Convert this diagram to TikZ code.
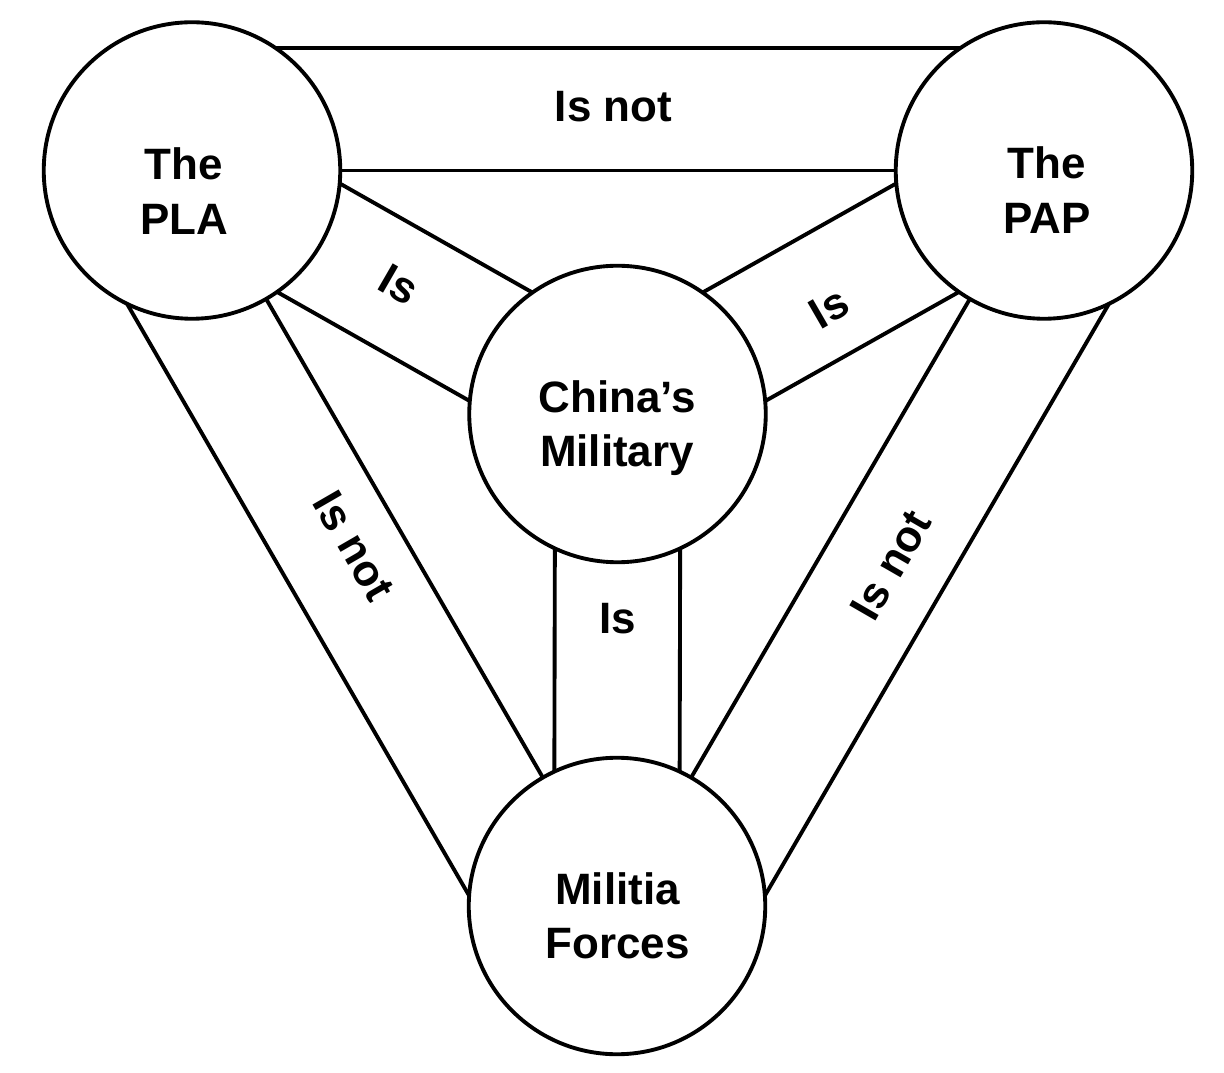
\documentclass[tikz,border=0pt]{standalone}
\usepackage{fontspec}
\setmainfont{Liberation Sans}
\begin{document}
\begin{tikzpicture}[
    ring/.style={circle,draw,line width=2.2pt,minimum size=5.93cm,inner sep=0pt,outer sep=0pt},
    band/.style={line width=2.2pt},
    lbl/.style={font={\bfseries\fontsize{25}{31}\selectfont},align=center}
]
\useasboundingbox (0,0) rectangle (24.48,21.44);
    \node[ring] (pla) at (3.84,18.03) {};
    \node[lbl] (platext) at (3.68,17.62) {The\\PLA};
    %
    \node[ring] (pap) at (20.88,18.03) {};
    \node[lbl] (paptext) at (20.94,17.64) {The\\PAP};
    %
    \node[ring] (china) at (12.35,13.16) {};
    \node[lbl] (chinatext) at (12.34,12.88) {China’s\\Military};
    %
    \node[ring] (militia) at (12.34,3.32) {};
    \node[lbl] (militiatext) at (12.35,3.12) {Militia\\Forces};
    %
    \draw[band] (pla.0) -- (pap.180);
    \draw[band] (pla.56) -- (pap.124);
    \node[lbl] (isnottop) at (12.27,19.30) {Is not};
    %
    \draw[band] (pla.355) -- (china.125);
    \draw[band] (pla.305) -- (china.175);
    \node[lbl,rotate=-30] (isleft) at (7.98,15.74) {Is};
    %
    \draw[band] (china.55) -- (pap.185);
    \draw[band] (china.5) -- (pap.235);
    \node[lbl,rotate=30] (isright) at (16.58,15.28) {Is};
    %
    \draw[band] (china.295) -- (militia.65);
    \draw[band] (china.245) -- (militia.115);
    \node[lbl] (isdown) at (12.36,9.06) {Is};
    %
    \draw[band] (pla.300) -- (militia.120);
    \draw[band] (pla.244) -- (militia.176);
    \node[lbl,rotate=-60] (isnotleft) at (7.08,10.52) {Is not};
    %
    \draw[band] (pap.240) -- (militia.60);
    \draw[band] (pap.296) -- (militia.4);
    \node[lbl,rotate=60] (isnotright) at (17.82,10.14) {Is not};
\end{tikzpicture}
\end{document}
